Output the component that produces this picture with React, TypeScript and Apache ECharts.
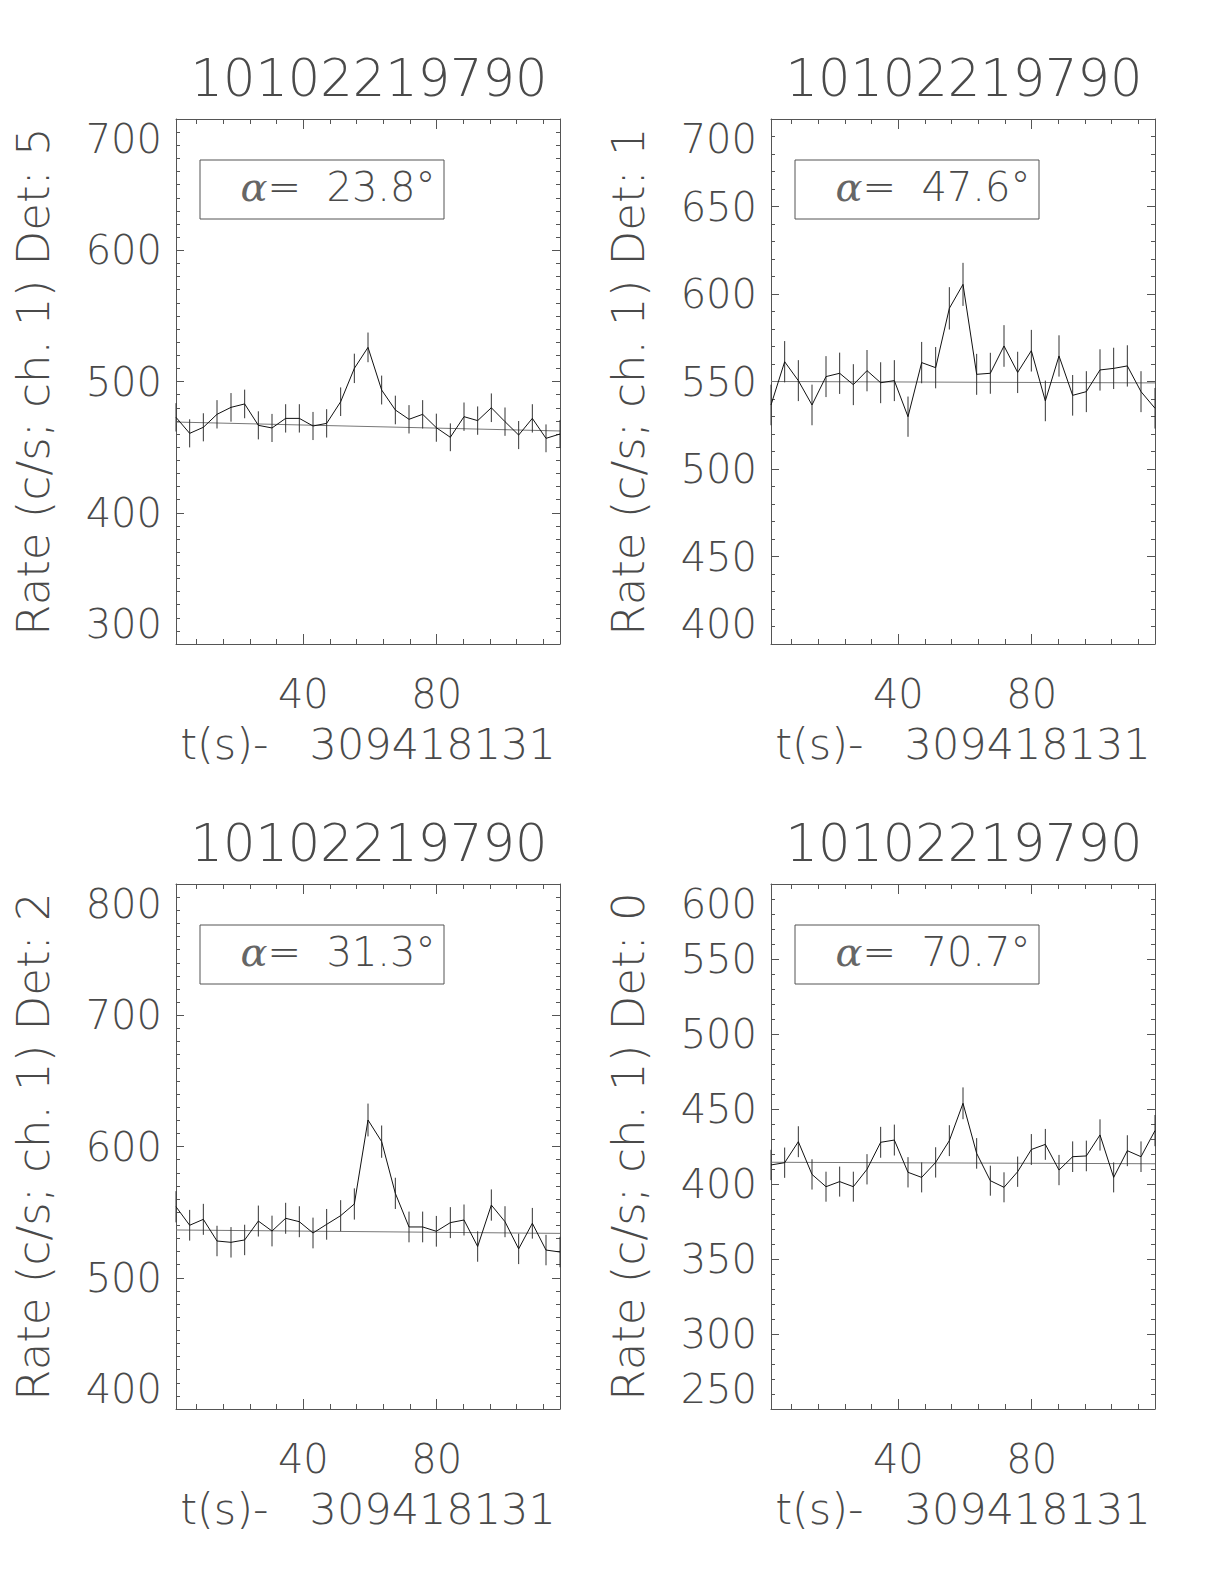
import React, { useEffect, useRef } from "react";
import * as echarts from "echarts";

// ---------- data ----------
const times = [1.8, 5.9, 10.0, 14.1, 18.3, 22.4, 26.5, 30.6, 34.7, 38.8, 42.9, 47.0, 51.2, 55.3, 59.4, 63.5, 67.6, 71.7, 75.8, 79.9, 84.1, 88.2, 92.3, 96.4, 100.5, 104.6, 108.7, 112.8, 117.0];
const xMajorTicks = [40, 80];
const xMinorTicks = [8, 16, 24, 32, 48, 56, 64, 72, 88, 96, 104, 112];

const titles = ["10102219790", "10102219790", "10102219790", "10102219790"];
const detectors = ["5", "1", "2", "0"];
const alphas = ["23.8", "47.6", "31.3", "70.7"];
const timeOffsetLabel = "t(s)-   309418131";

const ratesDet5 = [472.7, 460.5, 465.1, 475.0, 480.3, 482.9, 466.6, 464.6, 471.9, 471.9, 466.1, 468.1, 484.6, 510.0, 526.0, 493.5, 478.3, 471.2, 475.0, 464.8, 457.5, 473.2, 470.2, 480.0, 469.4, 459.2, 471.9, 456.7, 460.0];
const errDet5 = [10.8, 10.7, 10.7, 10.8, 10.9, 10.9, 10.7, 10.7, 10.8, 10.8, 10.7, 10.8, 10.9, 11.2, 11.3, 11.0, 10.9, 10.8, 10.8, 10.7, 10.6, 10.8, 10.8, 10.9, 10.8, 10.7, 10.8, 10.6, 10.7];
const fitDet5 = [469.1, 462.3];
const yTicksDet5 = [300, 400, 500, 600, 700];

const ratesDet1 = [536.6, 561.3, 550.5, 536.6, 552.8, 554.7, 548.2, 556.2, 549.3, 550.5, 529.9, 560.8, 557.9, 591.8, 605.5, 554.1, 554.7, 570.3, 555.2, 567.6, 538.9, 564.6, 542.1, 544.2, 556.6, 557.5, 558.9, 544.2, 534.7];
const errDet1 = [11.6, 11.8, 11.7, 11.6, 11.7, 11.8, 11.7, 11.8, 11.7, 11.7, 11.5, 11.8, 11.8, 12.1, 12.3, 11.7, 11.7, 11.9, 11.8, 11.9, 11.6, 11.8, 11.6, 11.7, 11.8, 11.8, 11.8, 11.7, 11.6];
const fitDet1 = [550.0, 549.2];
const yTicksDet1 = [400, 450, 500, 550, 600, 650, 700];

const ratesDet2 = [554.1, 540.0, 544.5, 528.0, 527.0, 528.8, 543.2, 535.6, 545.3, 542.7, 534.1, 540.7, 547.3, 556.2, 620.2, 603.7, 564.3, 538.7, 538.7, 535.4, 542.0, 544.0, 523.8, 555.4, 542.7, 522.0, 541.5, 521.1, 519.6];
const errDet2 = [11.9, 11.7, 11.8, 11.6, 11.6, 11.6, 11.8, 11.7, 11.8, 11.8, 11.7, 11.7, 11.8, 11.9, 12.5, 12.3, 11.9, 11.7, 11.7, 11.7, 11.8, 11.8, 11.6, 11.9, 11.8, 11.6, 11.7, 11.6, 11.6];
const fitDet2 = [536.4, 533.8];
const yTicksDet2 = [400, 500, 600, 700, 800];

const ratesDet0 = [412.7, 414.2, 428.2, 406.4, 398.2, 401.6, 398.2, 409.8, 427.8, 429.3, 407.8, 404.4, 414.4, 428.9, 453.8, 420.4, 402.2, 397.8, 408.2, 423.0, 426.4, 409.3, 418.2, 418.7, 432.7, 404.4, 422.2, 418.2, 435.6];
const errDet0 = [10.1, 10.1, 10.3, 10.1, 10.0, 10.0, 10.0, 10.1, 10.3, 10.3, 10.1, 10.0, 10.1, 10.3, 10.6, 10.2, 10.0, 10.0, 10.1, 10.3, 10.3, 10.1, 10.2, 10.2, 10.4, 10.0, 10.3, 10.2, 10.4];
const fitDet0 = [414.5, 413.5];
const yTicksDet0 = [250, 300, 350, 400, 450, 500, 550, 600];

const panelRates = [ratesDet5, ratesDet1, ratesDet2, ratesDet0];
const panelErrs = [errDet5, errDet1, errDet2, errDet0];
const panelFits = [fitDet5, fitDet1, fitDet2, fitDet0];
const panelYTicks = [yTicksDet5, yTicksDet1, yTicksDet2, yTicksDet0];
const panelMinorSplits = [10, 5, 10, 5];

// ---------- layout / style ----------
const LEFTS = [176, 771];
const TOPS = [119, 884];
const W = 384;
const H = 525;
const FONT = "DejaVu Sans";
const FW = 200;
const TXT = "#4a4a4a";
const FRAME = "#555555";

function buildOption() {
  const grids: any[] = [];
  const xAxes: any[] = [];
  const yAxes: any[] = [];
  const series: any[] = [];
  const graphics: any[] = [];
  const tMin = times[0];
  const tMax = times[times.length - 1];

  for (let i = 0; i < 4; i++) {
    const left = LEFTS[i % 2];
    const top = TOPS[Math.floor(i / 2)];
    grids.push({ left, top, width: W, height: H, containLabel: false });

    const xBase = {
      gridIndex: i,
      type: "value",
      min: tMin,
      max: tMax,
      splitLine: { show: false },
    };
    xAxes.push({
      ...xBase,
      position: "bottom",
      axisLine: { show: true, onZero: false, lineStyle: { color: FRAME, width: 1 } },
      axisTick: { show: true, inside: true, length: 10, customValues: xMajorTicks, lineStyle: { color: FRAME } },
      axisLabel: {
        show: true,
        customValues: xMajorTicks,
        fontSize: 40,
        fontFamily: FONT,
        fontWeight: FW,
        color: TXT,
        margin: 30,
      },
      name: timeOffsetLabel,
      nameLocation: "middle",
      nameGap: 78,
      nameTextStyle: { fontSize: 43, fontFamily: FONT, fontWeight: FW, color: TXT },
    });
    xAxes.push({
      ...xBase,
      position: "bottom",
      axisLine: { show: false },
      axisTick: { show: true, inside: true, length: 5, customValues: xMinorTicks, lineStyle: { color: FRAME } },
      axisLabel: { show: false },
    });
    xAxes.push({
      ...xBase,
      position: "top",
      axisLine: { show: true, onZero: false, lineStyle: { color: FRAME, width: 1 } },
      axisTick: { show: true, inside: true, length: 10, customValues: xMajorTicks, lineStyle: { color: FRAME } },
      axisLabel: { show: false },
    });
    xAxes.push({
      ...xBase,
      position: "top",
      axisLine: { show: false },
      axisTick: { show: true, inside: true, length: 5, customValues: xMinorTicks, lineStyle: { color: FRAME } },
      axisLabel: { show: false },
    });

    const ticks = panelYTicks[i];
    const yBase = {
      gridIndex: i,
      type: "value",
      min: ticks[0],
      max: ticks[ticks.length - 1],
      interval: ticks[1] - ticks[0],
      splitLine: { show: false },
      axisLine: { show: true, onZero: false, lineStyle: { color: FRAME, width: 1 } },
      axisTick: { show: true, inside: true, length: 8, lineStyle: { color: FRAME } },
      minorTick: { show: true, splitNumber: panelMinorSplits[i], length: 4, lineStyle: { color: FRAME } },
    };
    yAxes.push({
      ...yBase,
      position: "left",
      axisLabel: {
        show: true,
        fontSize: 40,
        fontFamily: FONT,
        fontWeight: FW,
        color: TXT,
        margin: 14,
        verticalAlignMaxLabel: "top",
        verticalAlignMinLabel: "bottom",
      },
      name: `Rate (c/s; ch. 1) Det: ${detectors[i]}`,
      nameLocation: "middle",
      nameGap: 120,
      nameRotate: 90,
      nameTextStyle: { fontSize: 45, fontFamily: FONT, fontWeight: FW, color: TXT },
    });
    yAxes.push({
      ...yBase,
      position: "right",
      axisLabel: { show: false },
    });

    const rates = panelRates[i];
    const errs = panelErrs[i];
    const fit = panelFits[i];

    series.push({
      type: "line",
      xAxisIndex: i * 4,
      yAxisIndex: i * 2,
      data: times.map((t, k) => [t, rates[k]]),
      showSymbol: false,
      symbol: "none",
      lineStyle: { color: "#111", width: 1 },
      silent: true,
      z: 3,
    });
    series.push({
      type: "line",
      xAxisIndex: i * 4,
      yAxisIndex: i * 2,
      data: [
        [tMin, fit[0]],
        [tMax, fit[1]],
      ],
      showSymbol: false,
      symbol: "none",
      lineStyle: { color: "#777", width: 1 },
      silent: true,
      z: 2,
    });
    series.push({
      type: "custom",
      xAxisIndex: i * 4,
      yAxisIndex: i * 2,
      data: times.map((t, k) => [t, rates[k] - errs[k], rates[k] + errs[k]]),
      encode: { x: 0, y: [1, 2] },
      silent: true,
      z: 3,
      renderItem: (params: any, api: any) => {
        const x = api.value(0);
        const p1 = api.coord([x, api.value(1)]);
        const p2 = api.coord([x, api.value(2)]);
        return {
          type: "line",
          shape: { x1: p1[0], y1: p1[1], x2: p2[0], y2: p2[1] },
          style: { stroke: "#333", lineWidth: 1 },
        };
      },
    });

    graphics.push({
      type: "text",
      x: left + W / 2 + 1,
      y: top - 41,
      style: {
        text: titles[i],
        fontSize: 51,
        fontFamily: FONT,
        fontWeight: FW,
        fill: TXT,
        align: "center",
        verticalAlign: "middle",
      },
    });
    graphics.push({
      type: "rect",
      shape: { x: left + 24, y: top + 41, width: 244, height: 59 },
      style: { fill: "none", stroke: FRAME, lineWidth: 1 },
    });
    graphics.push({
      type: "text",
      x: left + 162,
      y: top + 68,
      style: {
        text: `{a|α}{b|=  ${alphas[i]}°}`,
        align: "center",
        verticalAlign: "middle",
        rich: {
          a: { fontSize: 40, fontFamily: "DejaVu Serif", fontWeight: "normal", fontStyle: "italic", fill: "#666" },
          b: { fontSize: 40, fontFamily: FONT, fontWeight: FW, fill: TXT },
        },
      },
    });
  }

  return {
    animation: false,
    backgroundColor: "#ffffff",
    grid: grids,
    xAxis: xAxes,
    yAxis: yAxes,
    series,
    graphic: graphics,
  };
}

export default function App() {
  const ref = useRef<HTMLDivElement>(null);
  useEffect(() => {
    document.body.style.margin = "0";
    if (!ref.current) return;
    const chart = echarts.init(ref.current, undefined, { renderer: "svg" });
    chart.setOption(buildOption() as any);
    return () => chart.dispose();
  }, []);
  return <div ref={ref} style={{ width: 1224, height: 1584, background: "#fff" }} />;
}
